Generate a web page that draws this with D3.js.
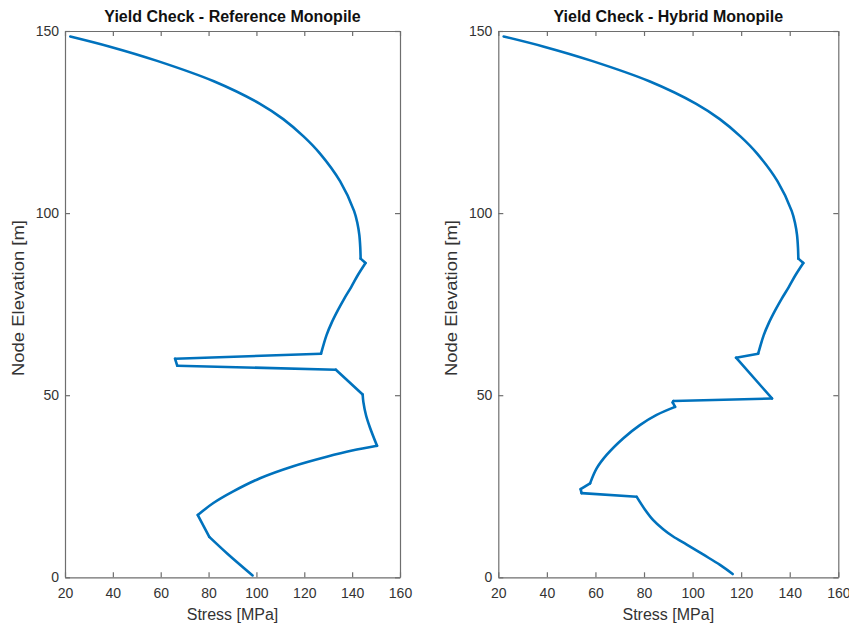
<!DOCTYPE html>
<html>
<head>
<meta charset="utf-8">
<script src="https://cdn.jsdelivr.net/npm/d3@7"></script>
<style>
  html, body { margin: 0; padding: 0; background: #fff; }
  svg { display: block; }
  text { font-family: "Liberation Sans", Arial, Helvetica, sans-serif; }
</style>
</head>
<body>
<svg id="fig" width="849" height="626"></svg>
<script>
// Stress along the pile (MPa) against node elevation (m)
const refStress = [22.2, 38.8, 58.5, 82.2, 101.5, 111.2, 119.8, 126.5, 135, 140.8, 142.2, 143.0, 143.4, 143.55, 145.6,
  142.4, 139.6, 136.6, 134, 131.5, 129.3, 127, 66.0, 66.9, 133.2, 144.4, 144.7, 145.8, 147.4, 150.4,
  140, 129.4, 115.4, 101.5, 90.3, 82.0, 75.5, 80.3, 88, 98.4];
const refElev = [148.5, 145.7, 141.8, 136.2, 130, 125.8, 121, 116.4, 108.7, 100.6, 97.2, 94, 90.5, 87.5, 86.3,
  83, 79.7, 76.4, 73.3, 70, 66.5, 61.4, 60.0, 58.1, 57.0, 50.2, 48.1, 44.5, 41.2, 36.1,
  34.8, 33.1, 30.5, 27.2, 23.6, 20.4, 17.1, 11.1, 6.4, 0.5];
// nodes where the profile changes section (sharp corners)
const refKinks = [13, 14, 21, 22, 23, 24, 25, 29, 36, 37];

const hybStress = [22.2, 38.8, 58.5, 82.2, 101.5, 111.2, 119.8, 126.5, 135, 140.8, 142.2, 143.0, 143.4, 143.55, 145.6,
  142.4, 139.6, 136.6, 134, 131.5, 129.3, 127, 117.9, 132.7, 92.1, 91.8, 92.8, 85.2, 78.3, 71.5, 64.6, 60.5, 57.8,
  53.9, 54.3, 77.0, 80.5, 83.8, 87.9, 92, 97.6, 104.5, 111.3, 116.5];
const hybElev = [148.5, 145.7, 141.8, 136.2, 130, 125.8, 121, 116.4, 108.7, 100.6, 97.2, 94, 90.5, 87.5, 86.3,
  83, 79.7, 76.4, 73.3, 70, 66.5, 61.4, 60.3, 49.1, 48.4, 48.0, 46.8, 44.6, 41.8, 38.2, 33.6, 29.9, 25.8,
  24.2, 23.1, 22.1, 18.5, 15.7, 13.2, 11.2, 9.0, 6.2, 3.4, 0.9];
const hybKinks = [13, 14, 21, 22, 23, 24, 25, 26, 32, 33, 34, 35];

const xTicks = [20, 40, 60, 80, 100, 120, 140, 160];
const yTicks = [0, 50, 100, 150];
const titles = ["Yield Check - Reference Monopile", "Yield Check - Hybrid Monopile"];
const xLabel = "Stress [MPa]";
const yLabel = "Node Elevation [m]";

const panels = [
  { title: titles[0], stress: refStress, elev: refElev, kinks: refKinks, left: 65, right: 400 },
  { title: titles[1], stress: hybStress, elev: hybElev, kinks: hybKinks, left: 498.3, right: 838.3 }
];
const plotTop = 31, plotBottom = 577.3;
const axisColor = "#6e6e6e", textColor = "#333333", lineColor = "#0072BD";

const svg = d3.select("#fig");

panels.forEach(p => {
  const x = d3.scaleLinear().domain([20, 160]).range([p.left, p.right]);
  const y = d3.scaleLinear().domain([0, 150]).range([plotBottom, plotTop]);
  const g = svg.append("g");

  // profile line: smooth between section changes, sharp at them
  const pts = p.stress.map((s, i) => [s, p.elev[i]]);
  const cuts = [0, ...p.kinks, pts.length - 1];
  const runs = [];
  for (let k = 0; k < cuts.length - 1; k++) runs.push(pts.slice(cuts[k], cuts[k + 1] + 1));
  const line = d3.line().x(d => x(d[0])).y(d => y(d[1])).curve(d3.curveCatmullRom.alpha(0.5));
  g.selectAll("path.run")
    .data(runs)
    .join("path")
    .attr("class", "run")
    .attr("fill", "none")
    .attr("stroke", lineColor)
    .attr("stroke-width", 2.6)
    .attr("stroke-linejoin", "round")
    .attr("stroke-linecap", "round")
    .attr("d", line);

  // box axes with inward ticks
  const styleAxis = sel => {
    sel.selectAll(".domain").attr("stroke", axisColor).attr("stroke-width", 1.2);
    sel.selectAll(".tick line").attr("stroke", axisColor).attr("stroke-width", 1.2);
    sel.selectAll(".tick text").attr("fill", textColor).style("font-size", "14px");
  };
  g.append("g").attr("transform", `translate(0,${plotBottom})`)
    .call(d3.axisBottom(x).tickValues(xTicks).tickSizeInner(-5).tickSizeOuter(0).tickPadding(11).tickFormat(d3.format("d")))
    .call(styleAxis);
  g.append("g").attr("transform", `translate(0,${plotTop})`)
    .call(d3.axisTop(x).tickValues(xTicks).tickSizeInner(-5).tickSizeOuter(0).tickFormat(""))
    .call(styleAxis);
  g.append("g").attr("transform", `translate(${p.left},0)`)
    .call(d3.axisLeft(y).tickValues(yTicks).tickSizeInner(-5).tickSizeOuter(0).tickPadding(6).tickFormat(d3.format("d")))
    .call(styleAxis);
  g.append("g").attr("transform", `translate(${p.right},0)`)
    .call(d3.axisRight(y).tickValues(yTicks).tickSizeInner(-5).tickSizeOuter(0).tickFormat(""))
    .call(styleAxis);
  g.selectAll("g text").attr("font-family", null);

  const cx = (p.left + p.right) / 2;
  g.append("text")
    .attr("x", cx).attr("y", 21.5)
    .attr("text-anchor", "middle")
    .attr("fill", "#111")
    .style("font-size", "16px").style("font-weight", "bold")
    .text(p.title);
  g.append("text")
    .attr("x", cx).attr("y", 620)
    .attr("text-anchor", "middle")
    .attr("fill", textColor)
    .style("font-size", "16px")
    .text(xLabel);
  g.append("text")
    .attr("transform", `translate(${p.left - 41},298) rotate(-90)`)
    .attr("text-anchor", "middle")
    .attr("fill", textColor)
    .attr("textLength", 156)
    .attr("lengthAdjust", "spacingAndGlyphs")
    .style("font-size", "16px")
    .text(yLabel);
});
</script>
</body>
</html>
